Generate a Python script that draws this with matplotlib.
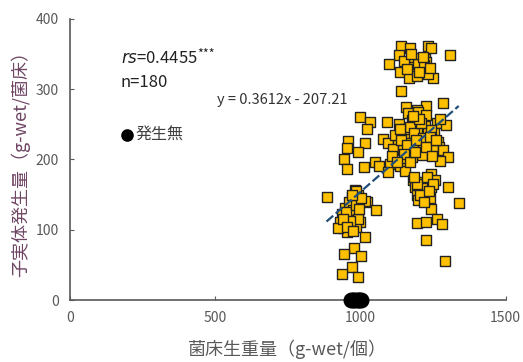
import matplotlib
matplotlib.use('Agg')
import matplotlib.pyplot as plt

plt.rcParams['font.family'] = ['Noto Sans CJK JP', 'DejaVu Sans']

# bed weight (g-wet) vs. fruit body yield (g-wet per bed)
bed_weight = [
    1141, 1172, 1233, 1242, 1307, 1132, 1097, 1183, 1221, 1227, 1181, 1210, 1135,
    1166, 1193, 1227, 1248, 1139, 1284, 1227, 1158, 1193, 1197, 1218, 1232,
    998, 1032, 1090, 1132, 1164, 1198, 1227, 1176, 1193, 1221, 1262, 1296, 1273,
    1141, 1164, 1204, 1233, 1253, 1021, 957, 1015, 1078, 1095, 1129, 1164, 1198,
    1233, 1267, 1270, 952, 990, 1112, 1147, 1181, 1250, 1284, 1302, 1210, 1176,
    1273, 944, 955, 1013, 1049, 1063, 1101, 1135, 1153, 1095, 1153, 1153, 1193, 1244,
    1181, 1187, 1215, 1244, 1256, 1221, 1244, 1302, 1198, 1215, 1239, 1338, 1210,
    1193, 1241, 1198, 1196, 1227, 1262, 1279, 1227, 1290,
    883, 981, 992, 1021, 1052, 969, 946, 935, 981, 957, 992, 929, 952, 998, 940,
    963, 986, 952, 1015, 923, 978, 944, 1001, 971, 937, 992, 986, 969, 1015,
    1120, 1140, 1172, 1185, 1208, 1215, 1240, 1160, 1190, 1225, 1150, 1170, 1110,
    1125, 1188, 1245, 1260, 1135, 1200, 1180,
    960, 975, 990, 950, 965, 985, 940, 1000, 955, 975, 995, 970,
    1195, 1230, 1205, 1250, 1220, 1185, 1235,
    1150, 1200, 1175, 1240, 1215, 1160,
]
fruit_yield = [
    362, 359, 362, 359, 348, 348, 336, 344, 343, 339, 332, 331, 325,
    316, 318, 327, 316, 297, 281, 276, 274, 270, 336, 335, 322,
    260, 253, 253, 251, 266, 267, 263, 256, 249, 247, 252, 249, 258,
    240, 232, 237, 240, 237, 243, 226, 224, 229, 223, 225, 223, 223,
    225, 225, 218, 216, 210, 215, 214, 215, 214, 214, 204, 206, 204,
    198, 200, 186, 189, 197, 190, 193, 190, 202, 182, 183, 244, 242, 242,
    171, 161, 168, 180, 171, 161, 161, 161, 154, 145, 145, 138, 159,
    149, 129, 142, 109, 111, 116, 108, 86, 56,
    146, 157, 149, 140, 128, 138, 131, 123, 126, 119, 121, 111, 109, 111, 102,
    107, 104, 97, 90, 103, 74, 66, 63, 47, 37, 33, 155, 147, 141,
    235, 228, 246, 238, 252, 230, 232, 220, 228, 218, 208, 196, 205,
    196, 210, 205, 228, 243, 258, 262,
    140, 128, 116, 125, 113, 135, 115, 145, 104, 98, 130, 150,
    165, 175, 150, 165, 140, 175, 155,
    340, 325, 350, 330, 345, 328,
]

# beds with no fruiting
none_weight = [968, 975, 982, 990, 996, 1001]
none_yield = [0, 0, 0, 0, 0, 0]

slope = 0.3612
intercept = -207.21
rs_text = '0.4455'
n_text = '180'

fig = plt.figure(figsize=(5.23, 3.62), dpi=100)
ax = fig.add_axes([0.134, 0.171, 0.833, 0.777])

ax.scatter(bed_weight, fruit_yield, marker='s', s=56, facecolor='#FFC000',
           edgecolor='#222222', linewidth=1.0, zorder=3)
ax.scatter(none_weight, none_yield, marker='o', s=110, color='black',
           clip_on=False, zorder=4)

# trend line over the range of the data
x0, x1 = min(bed_weight), max(bed_weight)
ax.plot([x0, x1], [slope * x0 + intercept, slope * x1 + intercept],
        color='#1F4E79', lw=1.6, ls=(0, (4, 1.5)), zorder=5)

ax.set_xlim(0, 1500)
ax.set_ylim(0, 400)
ax.set_xticks([0, 500, 1000, 1500])
ax.set_yticks([0, 100, 200, 300, 400])
for side in ['top', 'right']:
    ax.spines[side].set_visible(False)
for side in ['left', 'bottom']:
    ax.spines[side].set_color('#595959')
    ax.spines[side].set_linewidth(1.2)
ax.tick_params(direction='in', length=3, color='#595959', labelcolor='#595959',
               labelsize=10, pad=8)

ax.set_xlabel('菌床生重量（g-wet/個）', fontsize=13, color='#595959', labelpad=10)
ax.set_ylabel('子実体発生量（g-wet/菌床）', fontsize=13, color='#6E4563', labelpad=4)

t = ax.text(175, 344, r'$rs$=' + rs_text, fontsize=12, va='center', color='#222222')
ax.annotate('***', xy=(1, 0.75), xycoords=t, fontsize=9, va='center', color='#222222')
ax.text(175, 309, 'n=' + n_text, fontsize=12, va='center', color='#222222')
ax.text(506, 285, 'y = 0.3612x - 207.21', fontsize=10.5, va='center', color='#333333')
ax.scatter([196], [235], marker='o', s=65, color='black')
ax.text(225, 235, '発生無', fontsize=11.5, va='center', color='#404040')

plt.savefig('out.png')
